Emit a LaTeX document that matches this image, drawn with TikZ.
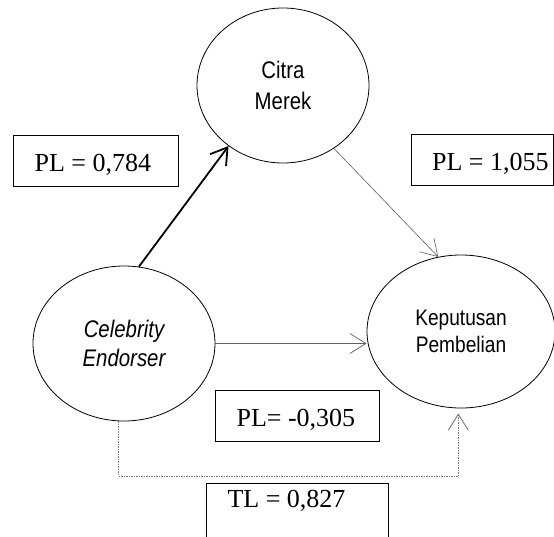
\documentclass[tikz,border=0pt]{standalone}
\usepackage{fontspec}
\usepackage{tikz}
\usetikzlibrary{shapes.geometric, arrows.meta, positioning, calc}
\newfontfamily\valuefont{Liberation Serif}
\newfontfamily\varfont[FakeStretch=0.85]{Liberation Sans}
\definecolor{pathgray}{RGB}{95, 95, 95}
\definecolor{dotgray}{RGB}{120, 120, 120}
% plain word spaces inside the boxes
\newcommand{\coefval}[1]{{\spaceskip=0pt\xspaceskip=0pt\mbox{#1}}}

\tikzset{
    varnode/.style={ellipse, draw, line width=0.8pt, inner sep=0pt, align=center},
    valuebox/.style={draw, line width=1.1pt, anchor=north west, inner ysep=0pt,
        inner xsep=21pt, text height=36pt, text depth=15pt, align=left,
        font=\valuefont\fontsize{26}{30}\selectfont},
    barb/.style={-{Straight Barb[length=16pt, width=20pt]}}
}

\begin{document}
\begin{tikzpicture}[x=1pt, y=-1pt]
    \useasboundingbox (0,0) rectangle (554,536);

    % The variables
    \node[varnode, minimum width=172pt, minimum height=155pt,
        font=\varfont\fontsize{24}{31}\selectfont] (citra) at (283,85.5) {Citra\\Merek};
    \node[varnode, minimum width=182pt, minimum height=155pt,
        font=\varfont\itshape\fontsize{24}{29}\selectfont] (celeb) at (124,343.5) {Celebrity\\Endorser};
    \node[varnode, minimum width=188pt, minimum height=153pt,
        font=\varfont\fontsize{22.5}{27}\selectfont] (kep) at (461,331.5) {Keputusan\\Pembelian};

    % The paths
    \draw[barb, line width=1.8pt] (celeb.79) -- (citra.228);
    \draw[barb, line width=0.6pt, pathgray] (citra.-51) -- (kep.107);
    \draw[barb, line width=0.7pt, pathgray] (celeb.east) -- (celeb.east -| kep.west);
    \draw[barb, line width=0.9pt, dotgray, dash pattern=on 1.5pt off 1pt, shorten >=5pt]
        (celeb.266) -- ++(0,55) -| (kep.268);

    % The coefficients
    \node[valuebox, text width=123pt] (pl784) at (13,135) {\coefval{PL = 0,784}};
    \node[valuebox, text width=132pt, inner xsep=5pt, align=right] (pl1055) at (411,134) {\coefval{PL = 1,055}};
    \node[valuebox, text width=122pt] (pl305) at (215,390) {\coefval{PL= -0,305}};
    \node[valuebox, text width=140pt, text height=24pt, text depth=60pt] (tl827) at (206,483) {\coefval{TL = 0,827}};
\end{tikzpicture}
\end{document}
